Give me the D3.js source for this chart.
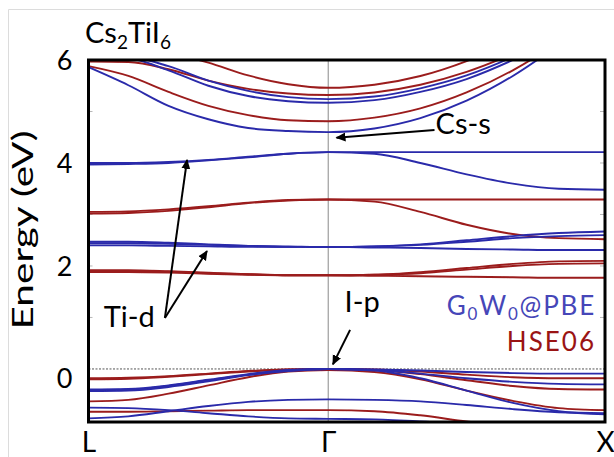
<!DOCTYPE html>
<html>
<head>
<meta charset="utf-8">
<script src="https://cdn.jsdelivr.net/npm/d3@7"></script>
<style>
  html, body { margin: 0; padding: 0; background: #fff; }
  svg { display: block; font-family: Lato, "Open Sans", sans-serif; }
</style>
</head>
<body>
<svg id="chart" width="614" height="457"></svg>
<script>
// High-symmetry path L – Γ – X (path length in units of 2π/a)
const kLabels = ["L", "Γ", "X"];
const kPositions = [0, 0.866, 1.866];
const kSamples = [0, 0.144, 0.289, 0.433, 0.577, 0.722, 0.866,
                  1.033, 1.199, 1.366, 1.533, 1.699, 1.866];

// Energy axis
const yTicks = [0, 2, 4, 6];
const yDomain = [-1.03, 6];

// G0W0@PBE bands (eV), one value per k sample
const gwBands = [
  [5.86, 5.51, 5.11, 4.85, 4.68, 4.62, 4.60, 4.67, 4.87, 5.21, 5.69, 6.30, 7.00],
  [6.05, 6.03, 5.80, 5.50, 5.30, 5.20, 5.17, 5.22, 5.38, 5.63, 6.00, 6.45, 7.00],
  [6.08, 6.06, 5.88, 5.60, 5.40, 5.28, 5.24, 5.29, 5.45, 5.70, 6.06, 6.50, 7.00],
  [4.00, 4.00, 4.02, 4.06, 4.12, 4.18, 4.21, 4.21, 4.21, 4.21, 4.21, 4.21, 4.21],
  [3.97, 3.98, 4.00, 4.05, 4.11, 4.18, 4.21, 4.18, 4.00, 3.78, 3.60, 3.50, 3.48],
  [2.47, 2.47, 2.45, 2.42, 2.39, 2.37, 2.37, 2.36, 2.35, 2.33, 2.32, 2.31, 2.31],
  [2.40, 2.40, 2.39, 2.38, 2.37, 2.37, 2.37, 2.38, 2.42, 2.50, 2.58, 2.64, 2.67],
  [2.44, 2.44, 2.43, 2.41, 2.39, 2.38, 2.37, 2.38, 2.41, 2.47, 2.54, 2.58, 2.60],
  [-0.41, -0.40, -0.33, -0.22, -0.11, -0.03, 0.00, -0.01, -0.03, -0.06, -0.08, -0.09, -0.09],
  [-0.43, -0.42, -0.35, -0.24, -0.12, -0.04, 0.00, -0.02, -0.09, -0.18, -0.25, -0.29, -0.30],
  [-0.40, -0.39, -0.32, -0.21, -0.10, -0.02, 0.00, -0.03, -0.18, -0.42, -0.66, -0.82, -0.88],
  [-0.96, -0.92, -0.82, -0.72, -0.64, -0.60, -0.59, -0.60, -0.63, -0.70, -0.78, -0.84, -0.86],
  [-0.75, -0.76, -0.80, -0.86, -0.92, -0.96, -0.97, -0.98, -1.02, -1.08, -1.14, -1.18, -1.20]
];

// HSE06 bands (eV), one value per k sample
const hseBands = [
  [5.88, 5.69, 5.38, 5.11, 4.93, 4.83, 4.81, 4.88, 5.06, 5.37, 5.80, 6.35, 7.00],
  [5.97, 5.96, 5.82, 5.60, 5.44, 5.35, 5.32, 5.37, 5.52, 5.77, 6.12, 6.55, 7.00],
  [6.60, 6.40, 6.15, 5.95, 5.70, 5.53, 5.46, 5.52, 5.69, 5.98, 6.38, 6.90, 7.40],
  [3.05, 3.06, 3.10, 3.16, 3.23, 3.28, 3.29, 3.29, 3.29, 3.29, 3.29, 3.29, 3.29],
  [3.02, 3.03, 3.07, 3.14, 3.22, 3.27, 3.29, 3.25, 3.05, 2.80, 2.62, 2.54, 2.52],
  [1.92, 1.92, 1.90, 1.87, 1.84, 1.82, 1.82, 1.81, 1.80, 1.79, 1.78, 1.77, 1.77],
  [1.88, 1.88, 1.87, 1.85, 1.83, 1.82, 1.82, 1.83, 1.88, 1.96, 2.04, 2.09, 2.10],
  [1.90, 1.90, 1.89, 1.86, 1.84, 1.82, 1.82, 1.83, 1.86, 1.93, 2.00, 2.04, 2.05],
  [-0.18, -0.17, -0.14, -0.09, -0.04, -0.01, 0.00, -0.01, -0.05, -0.11, -0.16, -0.18, -0.18],
  [-0.20, -0.19, -0.15, -0.10, -0.05, -0.01, 0.00, -0.02, -0.10, -0.22, -0.33, -0.39, -0.40],
  [-0.63, -0.60, -0.48, -0.32, -0.16, -0.05, -0.02, -0.06, -0.20, -0.42, -0.62, -0.76, -0.80],
  [-0.83, -0.83, -0.82, -0.81, -0.80, -0.80, -0.80, -0.82, -0.90, -1.02, -1.12, -1.18, -1.20]
];

// Annotations: label, text anchor point [k, E], arrow tails and heads [k, E]
const annotations = [
  { text: "Cs-s", at: [1.254, 4.56], anchor: "start",
    arrows: [[[1.250, 4.64], [0.896, 4.49]]] },
  { text: "Ti-d", at: [0.147, 0.82], anchor: "middle",
    arrows: [[[0.276, 0.99], [0.356, 4.06]], [[0.276, 0.99], [0.428, 2.29]]] },
  { text: "I-p", at: [0.925, 1.10], anchor: "start",
    arrows: [[[0.945, 0.76], [0.883, 0.09]]] }
];

const colors = { gw: "#2a2aaa", hse: "#9b1c1c", gwText: "#4646b8", hseText: "#9a1414" };

const svg = d3.select("#chart");
const plotL = 88.5, plotR = 605, plotT = 60, plotB = 422;

const x = d3.scaleLinear().domain([kPositions[0], kPositions[2]]).range([plotL, plotR]);
const y = d3.scaleLinear().domain(yDomain).range([plotB, plotT]);

// faint page border
svg.append("path").attr("d", "M8.5,457 V9.5 H614")
  .attr("fill", "none").attr("stroke", "#dcdcdc").attr("stroke-width", 1);

const defs = svg.append("defs");
defs.append("clipPath").attr("id", "plot-clip")
  .append("rect").attr("x", plotL).attr("y", plotT)
  .attr("width", plotR - plotL).attr("height", plotB - plotT);
defs.append("filter").attr("id", "soft")
  .append("feGaussianBlur").attr("stdDeviation", 0.4);
defs.append("marker").attr("id", "head")
  .attr("viewBox", "0 0 10 10").attr("refX", 9).attr("refY", 5)
  .attr("markerWidth", 10).attr("markerHeight", 10)
  .attr("markerUnits", "userSpaceOnUse").attr("orient", "auto")
  .append("path").attr("d", "M0,0.5 L10,5 L0,9.5 Z").attr("fill", "#000");

const plot = svg.append("g").attr("clip-path", "url(#plot-clip)");

// light inner ticks on both vertical edges
const minor = d3.range(1, 6);
plot.selectAll("line.minor-l").data(minor).join("line")
  .attr("class", "minor-l")
  .attr("x1", plotL).attr("x2", plotL + 4)
  .attr("y1", d => y(d)).attr("y2", d => y(d))
  .attr("stroke", "#b8b8b8").attr("stroke-width", 1);
plot.selectAll("line.minor-r").data(minor).join("line")
  .attr("class", "minor-r")
  .attr("x1", plotR - 5).attr("x2", plotR)
  .attr("y1", d => y(d)).attr("y2", d => y(d))
  .attr("stroke", "#b8b8b8").attr("stroke-width", 1);

// Γ marker line
plot.append("line")
  .attr("x1", x(kPositions[1])).attr("x2", x(kPositions[1]))
  .attr("y1", plotT).attr("y2", plotB)
  .attr("stroke", "#8a8a8a").attr("stroke-width", 1);

// valence band maximum reference
plot.append("line")
  .attr("x1", plotL).attr("x2", plotR)
  .attr("y1", y(0)).attr("y2", y(0))
  .attr("stroke", "#555").attr("stroke-width", 1)
  .attr("stroke-dasharray", "2,1.5");

const line = d3.line()
  .x((d, i) => x(kSamples[i]))
  .y(d => y(d))
  .curve(d3.curveMonotoneX);

const bandLayer = plot.append("g").attr("filter", "url(#soft)");
bandLayer.selectAll("path.hse").data(hseBands).join("path")
  .attr("class", "hse").attr("d", line)
  .attr("fill", "none").attr("stroke", colors.hse).attr("stroke-width", 1.9);
bandLayer.selectAll("path.gw").data(gwBands).join("path")
  .attr("class", "gw").attr("d", line)
  .attr("fill", "none").attr("stroke", colors.gw).attr("stroke-width", 1.9);

// frame
svg.append("rect")
  .attr("x", plotL).attr("y", plotT)
  .attr("width", plotR - plotL).attr("height", plotB - plotT)
  .attr("fill", "none").attr("stroke", "#000").attr("stroke-width", 3);

// energy axis labels
const yAxis = svg.append("g")
  .attr("transform", `translate(${plotL},0)`)
  .call(d3.axisLeft(y).tickValues(yTicks).tickSize(0).tickPadding(16).tickFormat(d3.format("d")));
yAxis.select(".domain").remove();
yAxis.selectAll("text")
  .attr("font-size", 27).attr("font-family", "Lato, sans-serif").attr("fill", "#000")
  .attr("dy", d => d === 0 ? "0.68em" : "0.34em");

// k-path labels
const xAxis = svg.append("g")
  .attr("transform", `translate(0,${plotB})`)
  .call(d3.axisBottom(x).tickValues(kPositions).tickSize(0).tickPadding(10)
    .tickFormat((d, i) => kLabels[i]));
xAxis.select(".domain").remove();
xAxis.selectAll("text")
  .attr("font-size", 28).attr("font-family", "Lato, sans-serif").attr("fill", "#000");

// axis title
svg.append("text")
  .attr("transform", "translate(33,230) rotate(-90)")
  .attr("text-anchor", "middle")
  .attr("font-size", 29)
  .attr("textLength", 199).attr("lengthAdjust", "spacingAndGlyphs")
  .text("Energy (eV)");

// compound name
const title = svg.append("text").attr("x", 85).attr("y", 43).attr("font-size", 29);
title.append("tspan").text("Cs");
title.append("tspan").attr("font-size", 19).attr("dy", 6).text("2");
title.append("tspan").attr("dy", -6).text("TiI");
title.append("tspan").attr("font-size", 19).attr("dy", 6).text("6");

// annotations with arrows
annotations.forEach(a => {
  svg.append("text")
    .attr("x", x(a.at[0])).attr("y", y(a.at[1]))
    .attr("text-anchor", a.anchor).attr("font-size", 29)
    .text(a.text);
  a.arrows.forEach(([from, to]) => {
    svg.append("line")
      .attr("x1", x(from[0])).attr("y1", y(from[1]))
      .attr("x2", x(to[0])).attr("y2", y(to[1]))
      .attr("stroke", "#000").attr("stroke-width", 2)
      .attr("marker-end", "url(#head)");
  });
});

// method legend
const lg = svg.append("text").attr("x", 596).attr("y", 315)
  .attr("text-anchor", "end").attr("font-size", 26).attr("letter-spacing", 1.8)
  .attr("fill", colors.gwText);
lg.append("tspan").text("G");
lg.append("tspan").attr("font-size", 17).attr("dy", 5).text("0");
lg.append("tspan").attr("dy", -5).text("W");
lg.append("tspan").attr("font-size", 17).attr("dy", 5).text("0");
lg.append("tspan").attr("dy", -5).text("@PBE");

svg.append("text").attr("x", 596).attr("y", 351)
  .attr("text-anchor", "end").attr("font-size", 26).attr("letter-spacing", 2)
  .attr("fill", colors.hseText)
  .text("HSE06");
</script>
</body>
</html>
